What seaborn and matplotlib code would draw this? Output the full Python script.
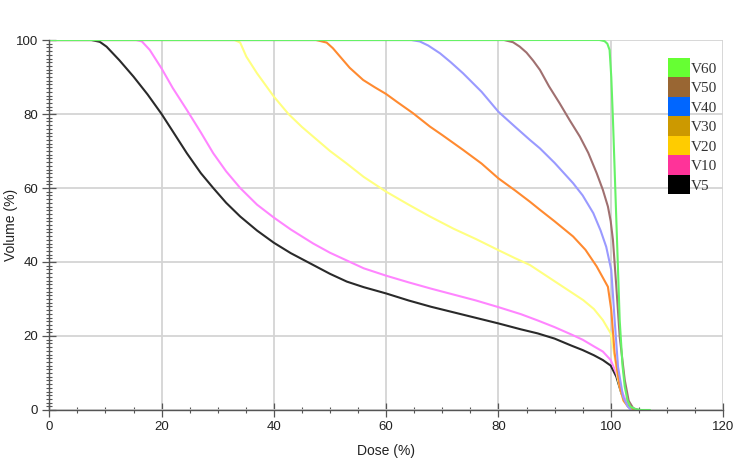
import numpy as np
import pandas as pd
import matplotlib
matplotlib.use("Agg")
import matplotlib.pyplot as plt
from matplotlib.patches import Patch
from matplotlib.ticker import MultipleLocator
import seaborn as sns

# ---- data ----
v5_x = [0, 7.5, 9, 10.2, 12.5, 15, 17.5, 20, 22, 24.5, 27, 29.2, 31.5, 34, 37, 40, 43, 47, 50, 53, 56, 60,
        64, 68, 72, 76, 80, 84, 87, 90, 93, 95, 97, 98.6, 100, 101, 101.9, 102.5, 103.1, 103.7, 104.3, 105]
v5_y = [100, 100, 99.5, 98.2, 94.5, 90.1, 85.3, 80, 75.3, 69.4, 64, 60, 56, 52.3, 48.5, 45.2, 42.4, 39.2, 36.8,
        34.7, 33.2, 31.5, 29.6, 27.9, 26.4, 24.9, 23.4, 21.8, 20.7, 19.3, 17.4, 16.2, 14.8, 13.5, 12, 9, 4.5,
        2.5, 1.3, 0.5, 0.1, 0]

v10_x = [0, 15.5, 16.5, 17.9, 20, 22, 24.5, 27, 29.2, 31.5, 34, 37, 40, 43, 47, 50, 53, 56, 60, 64, 68, 72,
         76, 80, 84, 87, 90, 93, 95, 97, 98.6, 100, 101, 101.9, 102.5, 103.1, 103.7, 104.3, 105]
v10_y = [100, 100, 99.6, 97.3, 92.3, 87, 81.1, 75, 69.4, 64.5, 60, 55.5, 52, 48.8, 45, 42.5, 40.4, 38.3, 36.3,
         34.5, 32.8, 31.2, 29.6, 27.8, 25.9, 24.2, 22.4, 20.4, 19, 17.2, 15.8, 13.5, 9.9, 5.4, 3.2, 1.8, 0.7,
         0.2, 0]

v20_x = [0, 33, 34, 35.1, 37, 40, 42.6, 45, 47, 50, 52.9, 56, 60, 64, 67.8, 72, 76, 80, 83, 85.6, 88, 89.7,
         92, 95.1, 97, 98.6, 100, 100.7, 101.3, 102.2, 103, 104]
v20_y = [100, 100, 99.3, 95.5, 91, 84.7, 80, 76.5, 73.9, 70, 66.7, 63, 59, 55.5, 52.3, 49, 46.2, 43.2, 41,
         39.2, 36.8, 35.1, 32.8, 29.7, 27.3, 24.3, 20.7, 14.4, 8.1, 2.7, 1, 0]

v30_x = [0, 47.5, 49.4, 50.5, 51.8, 53.5, 55.9, 58, 60, 62, 64.8, 67.8, 70, 73.7, 77, 80, 83, 85.6, 87.4, 90,
         93.3, 95.5, 97.5, 98.7, 99.5, 100.1, 100.7, 101.6, 102.3, 103.1, 104]
v30_y = [100, 100, 99.3, 97.8, 95.5, 92.5, 89.2, 87.2, 85.4, 83.2, 80.2, 76.6, 74.3, 70.3, 66.6, 62.6, 59.3,
         56.3, 54.1, 51, 46.9, 43.3, 38.8, 35.5, 33.3, 27, 15.3, 6.3, 2.5, 0.9, 0]

v40_x = [0, 64.5, 66, 67.5, 69.6, 71.5, 73.7, 77, 80, 83, 85.6, 87.4, 90, 93.3, 95, 96.9, 98.2, 99.2, 100.1,
         100.7, 101.3, 102.2, 103, 103.6]
v40_y = [100, 100, 99.6, 98.5, 96.4, 94, 91, 86, 80.6, 76.5, 73, 70.7, 66.8, 61.3, 58, 53.2, 48.5, 44.1, 37.8,
         24.3, 11.7, 3.6, 1, 0]

v50_x = [0, 81, 82.6, 83.8, 85, 86.2, 87.4, 89, 90.9, 92.7, 94.5, 96, 97.5, 98.6, 99.5, 100, 100.4, 101,
         101.6, 102.5, 103.2, 104, 104.8]
v50_y = [100, 100, 99.4, 98.2, 96.6, 94.4, 91.9, 87.5, 82.9, 78.3, 73.9, 69.5, 64, 59.5, 55, 51, 45.9, 33.3,
         19.8, 8.1, 2.5, 0.5, 0]

v60_x = [0, 98, 98.9, 99.4, 99.8, 100.1, 100.4, 101, 101.6, 102.1, 102.5, 103, 103.5, 104.5, 105.5, 107]
v60_y = [100, 100, 99.7, 99, 97.3, 90, 78.4, 51.4, 24.3, 12, 6.3, 2.5, 0.9, 0.2, 0, 0]

series_names = ["V5", "V10", "V20", "V30", "V40", "V50", "V60"]
series_x = [v5_x, v10_x, v20_x, v30_x, v40_x, v50_x, v60_x]
series_y = [v5_y, v10_y, v20_y, v30_y, v40_y, v50_y, v60_y]

line_colors = ["#2a2a2a", "#ff85ff", "#ffff80", "#ff8a30", "#9a9aff", "#a07070", "#66f266"]
legend_colors = ["#000000", "#ff3399", "#ffcc00", "#cc9900", "#0066ff", "#996633", "#66ff33"]

x_ticks = [0, 20, 40, 60, 80, 100, 120]
y_ticks = [0, 20, 40, 60, 80, 100]

# ---- long-form table ----
frames = []
for name, xs, ys in zip(series_names, series_x, series_y):
    frames.append(pd.DataFrame({"Dose": xs, "Volume": ys, "Series": name}))
df = pd.concat(frames, ignore_index=True)

sns.set_style("white")
plt.rcParams["font.family"] = ["Liberation Sans", "DejaVu Sans"]

fig = plt.figure(figsize=(7.5, 4.66), dpi=100)
ax = fig.add_axes([49.3 / 750, 56 / 466, (723 - 49.3) / 750, 370 / 466])

sns.lineplot(data=df, x="Dose", y="Volume", hue="Series", hue_order=series_names,
             palette=dict(zip(series_names, line_colors)), estimator=None, sort=False,
             linewidth=1.5, ax=ax, legend=False)

ax.set_xlim(0, 120)
ax.set_ylim(0, 100)
ax.set_xticks(x_ticks)
ax.set_yticks(y_ticks)
ax.xaxis.set_minor_locator(MultipleLocator(5))
ax.yaxis.set_minor_locator(MultipleLocator(1))
ax.grid(True, which="major", color="#d4d4d4", linewidth=1.3)
ax.set_axisbelow(True)

for side in ["top", "right"]:
    ax.spines[side].set_visible(False)
for side in ["left", "bottom"]:
    ax.spines[side].set_color("#555555")
    ax.spines[side].set_linewidth(1.0)

ax.tick_params(axis="both", which="both", bottom=True, left=True, top=False, right=False)
ax.tick_params(axis="both", which="major", direction="inout", length=10, width=0.9,
               color="#555555", labelsize=9.5, labelcolor="#222222", pad=3)
ax.tick_params(axis="both", which="minor", direction="inout", length=5, width=0.8, color="#555555")

ax.set_xlabel("Dose (%)", fontsize=10, color="#222222", labelpad=8)
ax.set_ylabel("Volume (%)", fontsize=10, color="#222222")
ax.yaxis.set_label_coords(-0.047, 0.5)

handles = [Patch(facecolor=c, edgecolor="none") for c in legend_colors][::-1]
labels = series_names[::-1]
leg = ax.legend(handles, labels, loc="upper left", bbox_to_anchor=(0.918, 0.952),
                frameon=False, borderpad=0, labelspacing=0, handlelength=1.44,
                handleheight=1.59, handletextpad=0.1, borderaxespad=0,
                prop={"family": ["Liberation Serif", "DejaVu Serif"], "size": 11})
for t in leg.get_texts():
    t.set_color("#333333")

fig.savefig("out.png", dpi=100)
